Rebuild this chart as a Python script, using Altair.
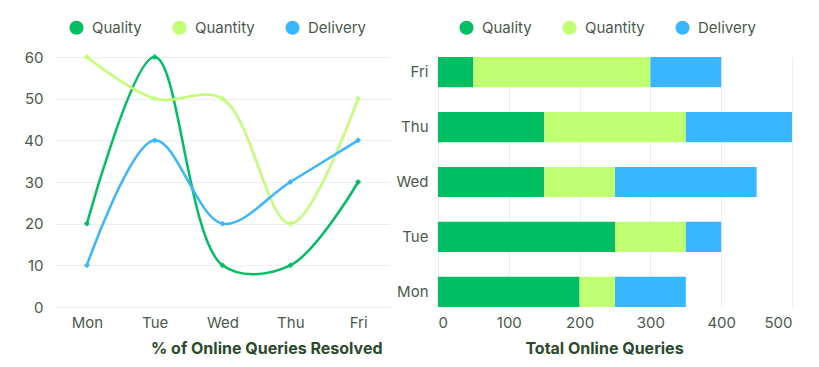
import altair as alt
import pandas as pd

days = ["Mon", "Tue", "Wed", "Thu", "Fri"]
series = ["Quality", "Quantity", "Delivery"]
colors = ["#00bf63", "#c1ff72", "#38b6ff"]

# % of Online Queries Resolved (line chart)
quality_pct = [20, 60, 10, 10, 30]
quantity_pct = [60, 50, 50, 20, 50]
delivery_pct = [10, 40, 20, 30, 40]

# Total Online Queries (stacked bars)
quality_total = [200, 250, 150, 150, 50]
quantity_total = [50, 100, 100, 200, 250]
delivery_total = [100, 50, 200, 150, 100]

FONT = "Inter"
LABEL_COLOR = "#4a5a4a"
TITLE_COLOR = "#2b4a2b"

rows1 = []
for s, vals in zip(series, [quality_pct, quantity_pct, delivery_pct]):
    for d, v in zip(days, vals):
        rows1.append({"day": d, "series": s, "value": v})
df1 = pd.DataFrame(rows1)

rows2 = []
for i, (s, vals) in enumerate(zip(series, [quality_total, quantity_total, delivery_total])):
    for d, v in zip(days, vals):
        rows2.append({"day": d, "series": s, "value": v, "ord": i})
df2 = pd.DataFrame(rows2)


def legend(x):
    return alt.Legend(
        title=None, orient="none", direction="horizontal", legendX=x, legendY=-37,
        symbolType="circle", symbolSize=200, symbolStrokeWidth=0, symbolOpacity=1,
        labelFontSize=15, labelColor=LABEL_COLOR, labelFont=FONT, columnPadding=30,
        labelOffset=8,
    )


color_scale = alt.Scale(domain=series, range=colors)

xl = alt.X(
    "day:N", sort=days, scale=alt.Scale(type="point", padding=0.47),
    axis=alt.Axis(title="% of Online Queries Resolved", titleAnchor="end", titleAlign="right",
                  titleX=327, labelAngle=0,
                  domain=False, ticks=False, grid=False, labelPadding=8, titlePadding=10),
)
yl = alt.Y(
    "value:Q", scale=alt.Scale(domain=[0, 60]),
    axis=alt.Axis(title=None, values=[0, 10, 20, 30, 40, 50, 60], domain=False, ticks=False,
                  gridColor="#eeeeee", labelPadding=12),
)

base = alt.Chart(df1).encode(
    x=xl, y=yl,
    color=alt.Color("series:N", scale=color_scale, sort=series, legend=legend(14)),
)
lines = base.mark_line(interpolate="catmull-rom", strokeWidth=2.5)
points = base.mark_point(shape="diamond", filled=True, size=35, opacity=1)
left = alt.layer(lines, points).properties(width=335, height=250)

right = alt.Chart(df2).mark_bar().encode(
    y=alt.Y("day:N", sort=days[::-1], scale=alt.Scale(paddingInner=0.45, paddingOuter=0),
            axis=alt.Axis(title=None, domain=False, ticks=False, labelPadding=10)),
    x=alt.X("value:Q", stack="zero", scale=alt.Scale(domain=[0, 500]),
            axis=alt.Axis(title="Total Online Queries", values=[0, 100, 200, 300, 400, 500],
                          domain=False, ticks=False, gridColor="#eeeeee", labelPadding=8,
                          titlePadding=10, titleX=166)),
    color=alt.Color("series:N", scale=color_scale, sort=series, legend=legend(21)),
    order=alt.Order("ord:Q"),
).properties(width=354, height=250)

chart = alt.hconcat(left, right, spacing=6).resolve_scale(color="independent").properties(
    padding={"left": 15, "top": 12, "right": 5, "bottom": 5}
).configure_axis(
    labelFont=FONT, labelFontSize=15, labelColor=LABEL_COLOR,
    titleFont=FONT, titleFontSize=16, titleFontWeight="bold", titleColor=TITLE_COLOR,
).configure_view(stroke=None)

chart.save("out.html", embed_options={"renderer": "svg", "actions": False})
